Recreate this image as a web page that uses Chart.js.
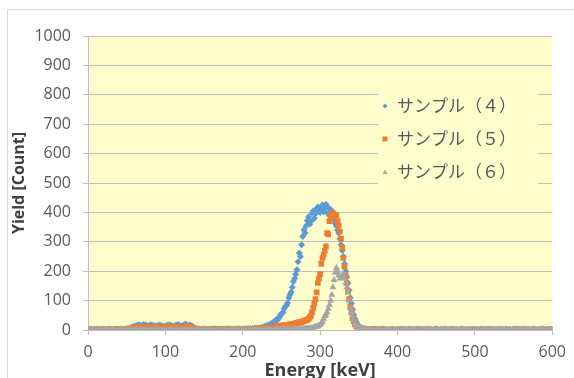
<!DOCTYPE html>
<html><head><meta charset="utf-8">
<script src="https://cdn.jsdelivr.net/npm/chart.js@4.4.1/dist/chart.umd.min.js"></script>
<style>
html,body{margin:0;padding:0;background:#fff;overflow:hidden;width:574px;height:378px;}
#frame{position:absolute;left:7px;top:9px;width:700px;height:500px;border-left:1px solid #d9d9d9;border-top:1px solid #d9d9d9;}
#wrap{position:absolute;left:0;top:0;width:574px;height:392px;}
</style></head><body>
<div id="frame"></div>
<div id="wrap"><canvas id="c" width="574" height="392"></canvas></div>
<script>
const energies = [
0,3,6,9,12,15,18,21,24,27,
30,33,36,39,42,45,48,51,54,57,
60,63,66,69,72,75,78,81,84,87,
90,93,96,99,102,105,108,111,114,117,
120,123,126,129,132,135,138,141,144,147,
150,153,156,159,162,165,168,171,174,177,
180,183,186,189,192,195,198,201,204,207,
210,213,216,219,222,225,228,231,234,237,
240,241.5,243,244.5,246,247.5,249,250.5,252,253.5,
255,256.5,258,259.5,261,262.5,264,265.5,267,268.5,
270,271.5,273,274.5,276,277.5,279,280.5,282,283.5,
285,286.5,288,289.5,291,292.5,294,295.5,297,298.5,
300,301.5,303,304.5,306,307.5,309,310.5,312,313.5,
315,316.5,318,319.5,321,322.5,324,325.5,327,328.5,
330,331.5,333,334.5,336,337.5,339,340.5,342,343.5,
345,346.5,348,349.5,351,352.5,354,355.5,357,358.5,
360,363,366,369,372,375,378,381,384,387,
390,393,396,399,402,405,408,411,414,417,
420,423,426,429,432,435,438,441,444,447,
450,453,456,459,462,465,468,471,474,477,
480,483,486,489,492,495,498,501,504,507,
510,513,516,519,522,525,528,531,534,537,
540,543,546,549,552,555,558,561,564,567,
570,573,576,579,582,585,588,591,594,597,
600];
const sample4 = [
2,3,2,2,3,2,3,2,2,3,
2,2,3,2,3,2,2,4,6,10,
14,16,18,15,19,17,14,18,16,13,
15,17,14,12,16,18,15,13,17,19,
14,16,20,15,18,12,6,3,3,2,
4,3,2,3,3,4,2,3,3,2,
4,3,3,2,3,4,3,3,4,5,
4,5,6,6,7,9,12,15,18,22,
27,30,35,33,38,45,52,55,60,72,
80,84,92,110,120,128,145,165,175,190,
205,232,262,250,290,318,340,330,355,372,
385,360,370,398,405,380,395,412,418,408,
400,415,425,402,410,428,420,395,390,410,
405,385,375,362,355,340,330,310,290,270,
250,225,200,180,160,135,110,90,70,52,
38,28,20,14,10,8,6,5,4,3,
3,2,2,3,2,2,2,3,2,2,
2,3,2,2,2,3,2,2,3,2,
2,2,3,2,2,2,3,2,2,2,
3,2,2,2,3,2,2,3,2,2,
2,3,2,2,2,2,3,2,2,3,
2,2,2,3,2,2,2,3,2,2,
3,2,2,2,3,2,2,2,3,2,
2,2,3,2,2,2,3,2,2,2,
2];
const sample5 = [
2,2,1,2,2,1,2,2,1,2,
2,1,2,2,2,2,3,4,5,7,
8,10,9,11,10,12,9,11,10,12,
11,9,12,10,11,13,10,9,12,11,
10,12,11,13,12,9,6,3,2,3,
2,2,3,2,2,3,2,2,3,2,
3,3,2,3,3,4,3,3,4,3,
4,4,5,5,6,6,7,8,9,10,
11,12,12,13,13,14,14,15,15,16,
16,17,17,18,19,19,20,21,22,23,
24,25,27,26,26,29,31,32,33,35,
38,42,48,60,75,90,105,128,160,175,
190,225,245,255,270,285,330,325,370,388,
395,398,385,390,392,372,355,335,310,280,
245,215,185,160,130,105,80,60,40,30,
20,14,10,8,6,5,4,3,3,2,
2,2,1,2,2,1,2,1,2,1,
1,2,1,1,2,1,2,1,1,2,
1,1,2,1,2,1,1,2,1,1,
2,1,1,2,1,1,2,1,2,1,
1,2,1,1,2,1,1,2,1,1,
2,1,2,1,1,2,1,1,2,1,
1,2,1,1,2,1,2,1,1,2,
1,1,2,1,1,2,1,1,2,1,
4];
const sample6 = [
1,0,1,1,0,1,0,1,1,0,
1,1,0,1,0,1,1,0,1,1,
1,2,1,1,2,1,1,2,1,1,
2,1,1,2,1,1,2,1,1,2,
1,1,2,1,1,2,1,1,0,1,
1,0,1,1,0,1,1,0,1,1,
0,1,1,0,1,1,1,0,1,1,
1,1,1,1,1,2,1,1,2,1,
1,1,2,1,1,2,1,1,1,2,
1,1,2,1,1,2,2,1,2,2,
2,2,2,3,3,3,3,4,4,4,
5,5,6,7,8,9,10,11,12,15,
18,22,28,38,48,52,60,72,85,100,
120,145,170,195,212,200,185,175,178,185,
190,175,160,145,128,100,75,60,48,35,
22,16,12,9,6,4,3,2,2,1,
1,1,0,1,1,0,1,1,0,1,
1,0,1,1,0,1,0,1,1,0,
1,1,0,1,0,1,1,0,1,1,
0,1,1,0,1,1,0,1,1,0,
1,0,1,1,0,1,1,0,1,1,
0,1,1,0,1,0,1,1,0,1,
1,0,1,1,0,1,1,0,1,1,
0,1,1,0,1,1,0,1,1,0,
1];
const seriesNames = ['サンプル（４）', 'サンプル（５）', 'サンプル（６）'];
const seriesColors = ['#5B9BD5', '#ED7D31', '#A5A5A5'];
const seriesShapes = ['rectRot', 'rect', 'triangle'];

function pts(vals){ return energies.map((e,i)=>({x:e, y:vals[i]})); }

const bgPlugin = {
  id:'bg',
  beforeDraw(chart){
    const {ctx, chartArea:a} = chart;
    ctx.save(); ctx.fillStyle = '#FFFDCC';
    ctx.fillRect(a.left, a.top, a.right-a.left, a.bottom-a.top);
    ctx.restore();
  },
  beforeDatasetsDraw(chart){
    const {ctx} = chart;
    const lx = 378, ly = 88, lw = 160, lh = 102;
    ctx.save();
    ctx.fillStyle = '#FFFDCC';
    ctx.fillRect(lx, ly, lw, lh);
    ctx.font = '17px "Noto Sans CJK JP"';
    ctx.textBaseline = 'middle';
    const rows = [106, 139, 172];
    seriesNames.forEach((n,i)=>{
      const y = rows[i], x = 385;
      ctx.fillStyle = seriesColors[i];
      ctx.beginPath();
      if (seriesShapes[i]==='rectRot'){ ctx.moveTo(x,y-2.5);ctx.lineTo(x+2.5,y);ctx.lineTo(x,y+2.5);ctx.lineTo(x-2.5,y);ctx.closePath(); }
      else if (seriesShapes[i]==='rect'){ ctx.rect(x-2.5,y-2.5,5,5); }
      else { ctx.moveTo(x,y-2.5);ctx.lineTo(x+2.5,y+2);ctx.lineTo(x-2.5,y+2);ctx.closePath(); }
      ctx.fill();
      ctx.fillStyle = '#595959';
      ctx.fillText(n, 397, y);
    });
    ctx.restore();
  }
};

const gridCol = '#BFBFBF';
new Chart(document.getElementById('c'), {
  type:'scatter',
  data:{datasets:[
    {label:seriesNames[0], data:pts(sample4), backgroundColor:seriesColors[0], borderColor:seriesColors[0], pointStyle:'rectRot', pointRadius:3.5, borderWidth:0, order:3},
    {label:seriesNames[1], data:pts(sample5), backgroundColor:seriesColors[1], borderColor:seriesColors[1], pointStyle:'rect', pointRadius:4, borderWidth:0, order:2},
    {label:seriesNames[2], data:pts(sample6), backgroundColor:seriesColors[2], borderColor:seriesColors[2], pointStyle:'triangle', pointRadius:4, borderWidth:0, order:1}
  ]},
  options:{
    responsive:false, animation:false, devicePixelRatio:1,
    layout:{padding:{left:0, top:36, right:21, bottom:0}},
    plugins:{legend:{display:false}, tooltip:{enabled:false}},
    scales:{
      x:{type:'linear', min:0, max:600,
        ticks:{stepSize:100, color:'#595959', font:{family:'"Open Sans"', size:16}, padding:8, maxRotation:0, callback:v=>String(v)},
        grid:{drawOnChartArea:false, drawTicks:true, tickLength:5, color:gridCol},
        border:{display:true, color:gridCol},
        title:{display:true, text:'Energy [keV]', color:'#404040', font:{family:'"Open Sans"', size:18, weight:'bold'}, padding:{top:0,bottom:10}},
        afterFit(s){ s.height = 62; }
      },
      y:{min:0, max:1000,
        ticks:{stepSize:100, color:'#595959', font:{family:'"Open Sans"', size:16}, padding:12, callback:v=>String(v)},
        grid:{color:gridCol, tickLength:5, drawTicks:true},
        border:{display:true, color:gridCol},
        title:{display:true, text:'Yield [Count]', color:'#404040', font:{family:'"Open Sans"', size:16, weight:'bold'}, padding:{top:10,bottom:0}},
        afterFit(s){ s.width = 88; }
      }
    }
  },
  plugins:[bgPlugin]
});
</script>
</body></html>
